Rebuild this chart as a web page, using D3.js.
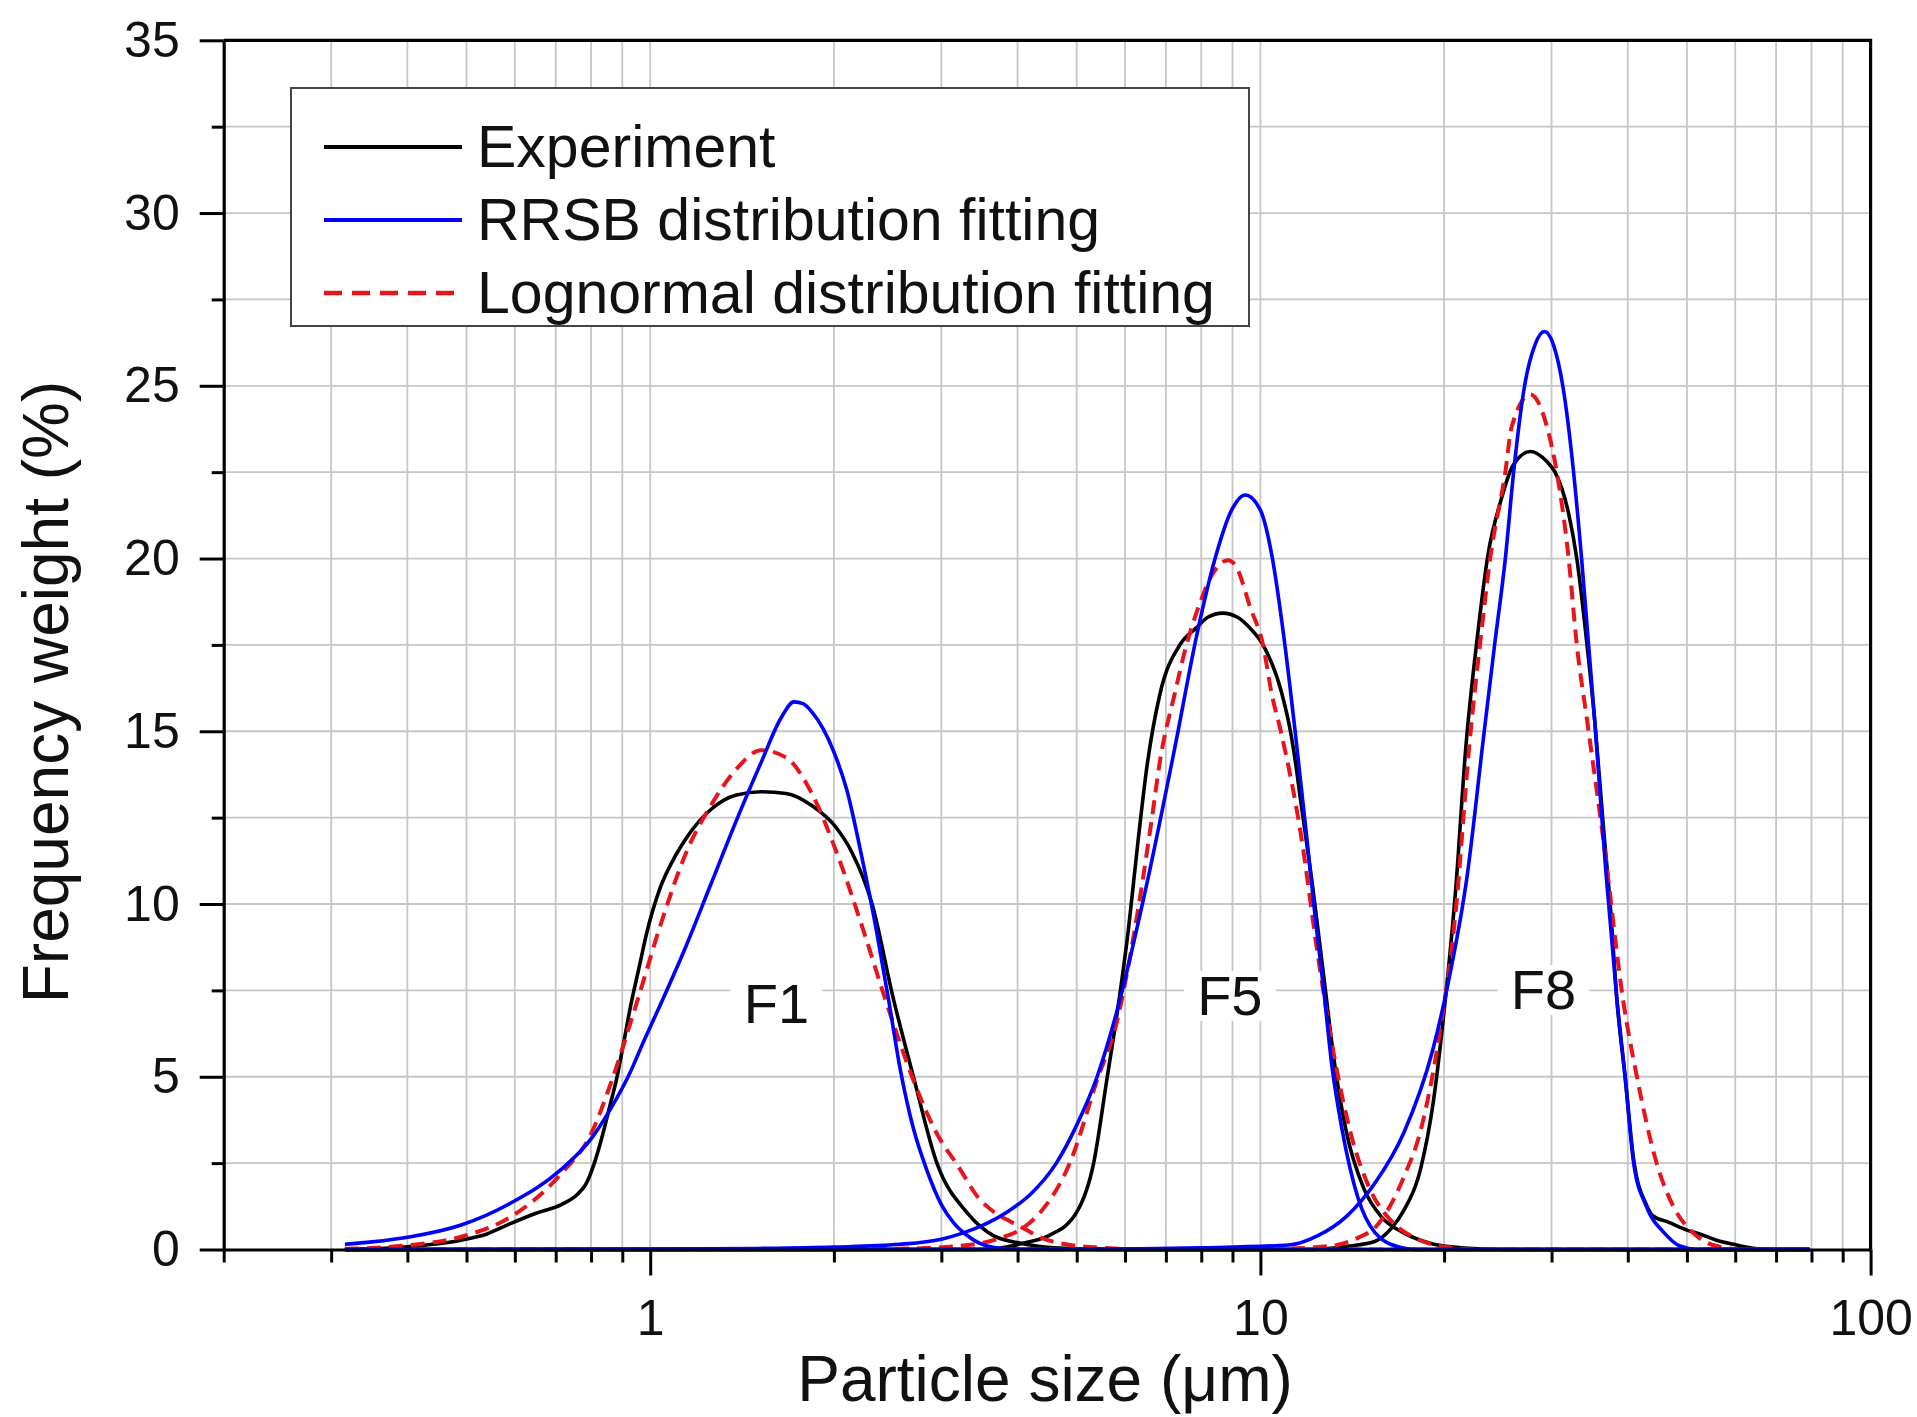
<!DOCTYPE html>
<html>
<head>
<meta charset="utf-8">
<script src="https://cdn.jsdelivr.net/npm/d3@7"></script>
<style>
  html, body { margin: 0; padding: 0; background: #ffffff; }
  svg { display: block; font-family: "Liberation Sans", Arial, sans-serif; }
</style>
</head>
<body>
<svg id="chart" width="1917" height="1417"></svg>
<script>
// Particle size distributions of three powders (F1, F5, F8):
// measured curve plus RRSB and lognormal fits. Points are [size (µm), frequency (%)].
const seriesNames = ["Experiment", "RRSB distribution fitting", "Lognormal distribution fitting"];
const sampleNames = ["F1", "F5", "F8"];

const expF1 = [[0.316,0],[0.38,0.05],[0.44,0.15],[0.49,0.27],[0.54,0.45],[0.59,0.75],[0.65,1.05],[0.715,1.3],[0.76,1.6],[0.785,1.9],[0.81,2.5],[0.835,3.3],[0.86,4.2],[0.88,4.9],[0.905,6.0],[0.93,7.1],[0.96,8.2],[0.985,9.1],[1.04,10.5],[1.1,11.4],[1.15,11.95],[1.26,12.75],[1.38,13.15],[1.52,13.25],[1.67,13.2],[1.84,12.85],[2.02,12.2],[2.14,11.5],[2.31,10.0],[2.5,7.3],[2.7,5.0],[2.95,2.5],[3.3,1.08],[3.65,0.4],[4.0,0.2],[4.3,0.1],[5.0,0.02],[6.0,0],[79.4,0]];
const rrsbF1 = [[0.316,0.15],[0.35,0.22],[0.405,0.37],[0.49,0.71],[0.59,1.34],[0.715,2.32],[0.8,3.2],[0.863,4.1],[0.92,5.0],[0.98,6.1],[1.04,7.1],[1.146,8.8],[1.259,10.6],[1.383,12.4],[1.52,14.1],[1.64,15.4],[1.72,15.85],[1.78,15.8],[1.84,15.56],[2.0,14.4],[2.1,13.3],[2.22,11.4],[2.35,9.2],[2.46,7.2],[2.57,5.2],[2.7,3.5],[2.84,2.3],[3.0,1.3],[3.15,0.75],[3.3,0.42],[3.5,0.15],[3.8,0.03],[4.2,0],[79.4,0]];
const lognF1 = [[0.316,0.02],[0.4,0.12],[0.49,0.37],[0.59,0.94],[0.715,2.2],[0.8,3.35],[0.863,4.84],[0.95,7.13],[1.04,9.4],[1.146,11.5],[1.259,12.87],[1.383,13.9],[1.52,14.45],[1.67,14.24],[1.84,13.2],[2.02,11.5],[2.22,9.4],[2.44,7.13],[2.7,4.9],[2.94,3.4],[3.2,2.4],[3.45,1.5],[3.65,1.1],[3.9,0.8],[4.1,0.6],[4.4,0.32],[4.8,0.15],[5.5,0.05],[6.5,0],[79.4,0]];

const expF5 = [[0.316,0],[3.5,0],[4.13,0.2],[4.5,0.4],[5.0,1.08],[5.33,2.5],[5.6,4.9],[5.82,6.8],[6.08,9.3],[6.3,11.8],[6.52,14.0],[6.85,16.1],[7.38,17.5],[7.86,18.0],[8.2,18.3],[8.67,18.42],[9.17,18.3],[9.6,18.0],[10.1,17.5],[10.84,16.1],[11.2,15.0],[11.4,14.17],[11.64,13.0],[12.16,10.6],[12.7,7.9],[13.25,5.3],[13.84,3.38],[14.77,1.77],[15.76,0.96],[17.18,0.48],[19.17,0.16],[21.3,0.05],[25,0],[79.4,0]];
const rrsbF5 = [[0.316,0],[1.0,0.01],[1.5,0.03],[2.0,0.07],[2.56,0.15],[3.0,0.3],[3.26,0.48],[3.84,1.08],[4.2,1.6],[4.63,2.5],[5.0,3.6],[5.4,5.0],[5.82,6.9],[6.49,10.45],[7.23,14.47],[7.88,17.85],[8.41,19.94],[8.97,21.4],[9.44,21.84],[10.0,21.4],[10.44,20.1],[10.95,17.6],[11.4,15.0],[11.9,12.0],[12.3,9.6],[12.7,7.5],[13.1,5.3],[13.6,3.5],[14.45,1.5],[15.42,0.48],[16.8,0.08],[18,0],[79.4,0]];
const lognF5 = [[0.316,0],[2.5,0.02],[3.2,0.1],[3.7,0.3],[4.09,0.63],[4.36,1.08],[4.87,2.5],[5.4,4.9],[5.82,6.6],[6.21,9.16],[6.63,12.4],[6.85,14.17],[7.24,16.1],[7.54,17.4],[7.9,18.55],[8.38,19.6],[8.85,19.95],[9.1,19.8],[9.64,18.55],[10.1,17.5],[10.43,16.1],[10.8,15.0],[11.64,12.06],[12.42,8.52],[13.25,5.47],[14.14,3.2],[15.1,1.77],[16.44,0.8],[18.0,0.32],[20,0.08],[23,0],[79.4,0]];

const expF8 = [[0.316,0],[12,0],[14,0.1],[15.42,0.24],[16.44,0.64],[17.18,1.13],[18.34,2.4],[19.17,4.18],[20,6.9],[20.9,10.45],[21.7,14.5],[22.7,17.8],[23.6,20.1],[24.8,21.7],[25.9,22.67],[27.7,23.1],[29.5,22.8],[30.4,22.5],[32.0,21.3],[33.0,20.0],[34.3,17.5],[35.3,15.33],[36.5,12.2],[37.5,9.8],[38.4,7.2],[39.6,5.0],[40.9,2.6],[42.9,1.3],[44.0,0.97],[46.5,0.8],[50,0.56],[52.5,0.45],[55.9,0.27],[59.6,0.15],[63.4,0.05],[68,0],[79.4,0]];
const rrsbF8 = [[0.316,0],[5,0.01],[8,0.05],[11.14,0.13],[12.42,0.4],[13.84,0.96],[15.42,1.93],[17.18,3.38],[19.17,5.79],[20.4,7.88],[21.8,10.77],[23.2,14.8],[24.2,17.5],[25.2,20.0],[26.0,22.5],[27.1,25.0],[28.2,26.2],[29.2,26.57],[30.2,26.2],[31.3,25.0],[32.6,22.5],[33.6,20.0],[34.5,17.5],[35.3,15.33],[36.8,11.0],[38.4,7.22],[39.6,5.0],[40.9,2.5],[42.9,1.25],[45.9,0.48],[48.7,0.1],[52,0],[79.4,0]];
const lognF8 = [[0.316,0],[10,0.01],[13,0.1],[14.5,0.35],[15.42,0.64],[17.18,2.1],[18.34,3.5],[19.6,6.1],[20.9,9.8],[22.0,14.6],[23.0,17.8],[23.8,20.0],[25.2,22.5],[25.8,23.8],[27.7,24.75],[29.5,23.8],[30.6,22.5],[32.0,20.0],[33.0,17.5],[34.3,15.33],[36.7,11.5],[39.3,7.22],[41.4,5.0],[44.6,2.5],[47.5,1.25],[51.2,0.48],[55.9,0.1],[62,0],[79.4,0]];

// Sample tags placed in data units: [size, frequency]
const sampleTagAt = [[1.61, 6.56], [8.91, 6.79], [29.1, 6.96]];

// Axis ticks
const xMajorTicks = [1, 10, 100];
const xMinorTicks = [0.2,0.3,0.4,0.5,0.6,0.7,0.8,0.9,2,3,4,5,6,7,8,9,20,30,40,50,60,70,80,90];
const yMajorTicks = [0, 5, 10, 15, 20, 25, 30, 35];
const yMinorTicks = [2.5, 7.5, 12.5, 17.5, 22.5, 27.5, 32.5];

const xTitle = "Particle size (\u03bcm)";
const yTitle = "Frequency weight (%)";

// ---- layout ----
const plot = { left: 223.7, right: 1870.6, top: 40.3, bottom: 1249.5 };
const colors = ["#000000", "#0000ff", "#e8141c"];

const svg = d3.select("#chart");
const x = d3.scaleLog().domain([0.2, 100]).range([plot.left, plot.right]);
const y = d3.scaleLinear().domain([0, 35]).range([plot.bottom, plot.top]);

// grid
const grid = svg.append("g").attr("stroke", "#c6c6c6").attr("stroke-width", 1.8);
grid.selectAll("line.vx").data(xMajorTicks.concat(xMinorTicks).filter(v => v > 0.2 && v < 100))
  .join("line").attr("class", "vx")
  .attr("x1", d => x(d)).attr("x2", d => x(d))
  .attr("y1", y(35)).attr("y2", y(0));
grid.selectAll("line.hy").data(yMajorTicks.concat(yMinorTicks).filter(v => v > 0 && v < 35))
  .join("line").attr("class", "hy")
  .attr("x1", x(0.2)).attr("x2", x(100))
  .attr("y1", d => y(d)).attr("y2", d => y(d));

// curves
const line = d3.line().x(d => x(d[0])).y(d => y(d[1])).curve(d3.curveMonotoneX);
const samples = [
  { name: sampleNames[0], curves: [expF1, rrsbF1, lognF1] },
  { name: sampleNames[1], curves: [expF5, rrsbF5, lognF5] },
  { name: sampleNames[2], curves: [expF8, rrsbF8, lognF8] }
];
const drawOrder = [0, 2, 1];
const curvesG = svg.append("g").attr("fill", "none");
drawOrder.forEach(si => {
  samples.forEach(s => {
    curvesG.append("path")
      .attr("d", line(s.curves[si]))
      .attr("stroke", colors[si])
      .attr("stroke-width", si === 2 ? 4 : 3.6)
      .attr("stroke-dasharray", si === 2 ? "14,8" : null)
      .attr("stroke-linejoin", "round");
  });
});

// sample tags with white backing
const tags = svg.append("g").attr("font-size", 56).attr("fill", "#111");
sampleNames.forEach((n, i) => {
  const cx = x(sampleTagAt[i][0]), by = y(sampleTagAt[i][1]);
  tags.append("rect").attr("x", cx - 46).attr("y", by - 44).attr("width", 92).attr("height", 50).attr("fill", "#fff");
  tags.append("text").attr("x", cx).attr("y", by).attr("text-anchor", "middle").text(n);
});

// axes
const tickFmt = d => String(d);
svg.append("g").attr("transform", `translate(0,${y(0)})`)
  .call(d3.axisBottom(x).tickValues(xMajorTicks).tickFormat(tickFmt).tickSize(26).tickPadding(24).tickSizeOuter(0));
svg.append("g").attr("transform", `translate(0,${y(0)})`)
  .call(d3.axisBottom(x).tickValues(xMinorTicks).tickFormat(() => "").tickSize(13).tickSizeOuter(0))
  .call(g => g.select(".domain").remove());
svg.append("g").attr("transform", `translate(${x(0.2)},0)`)
  .call(d3.axisLeft(y).tickValues(yMajorTicks).tickFormat(tickFmt).tickSize(24).tickPadding(20).tickSizeOuter(0));
svg.append("g").attr("transform", `translate(${x(0.2)},0)`)
  .call(d3.axisLeft(y).tickValues(yMinorTicks).tickFormat(() => "").tickSize(12).tickSizeOuter(0))
  .call(g => g.select(".domain").remove());

svg.selectAll(".tick line").attr("stroke", "#000").attr("stroke-width", 3);
svg.selectAll(".domain").attr("stroke", "#000").attr("stroke-width", 3.2);
svg.selectAll(".tick text").attr("font-size", 50).attr("fill", "#111")
  .attr("font-family", "'Liberation Sans', Arial, sans-serif");

// frame: top and right edges
svg.append("path")
  .attr("d", `M${x(0.2)},${y(35)}H${x(100)}V${y(0)}`)
  .attr("fill", "none").attr("stroke", "#000").attr("stroke-width", 3.2);

// titles
svg.append("text").attr("x", 1045).attr("y", 1401).attr("text-anchor", "middle")
  .attr("font-size", 64).attr("fill", "#111").text(xTitle);
svg.append("text").attr("transform", "translate(68,692) rotate(-90)").attr("text-anchor", "middle")
  .attr("font-size", 64).attr("fill", "#111").text(yTitle);

// legend
const lg = svg.append("g");
lg.append("rect").attr("x", 291).attr("y", 88).attr("width", 958).attr("height", 238)
  .attr("fill", "#fff").attr("stroke", "#444").attr("stroke-width", 2);
const rowY = [147, 220, 293];
seriesNames.forEach((n, i) => {
  lg.append("line").attr("x1", 324).attr("x2", i === 2 ? 456 : 462)
    .attr("y1", rowY[i]).attr("y2", rowY[i])
    .attr("stroke", colors[i]).attr("stroke-width", i === 2 ? 4.5 : 3.8)
    .attr("stroke-dasharray", i === 2 ? "18,10" : null);
  lg.append("text").attr("x", 477).attr("y", rowY[i] + 20)
    .attr("font-size", 59).attr("fill", "#111").text(n);
});
</script>
</body>
</html>
